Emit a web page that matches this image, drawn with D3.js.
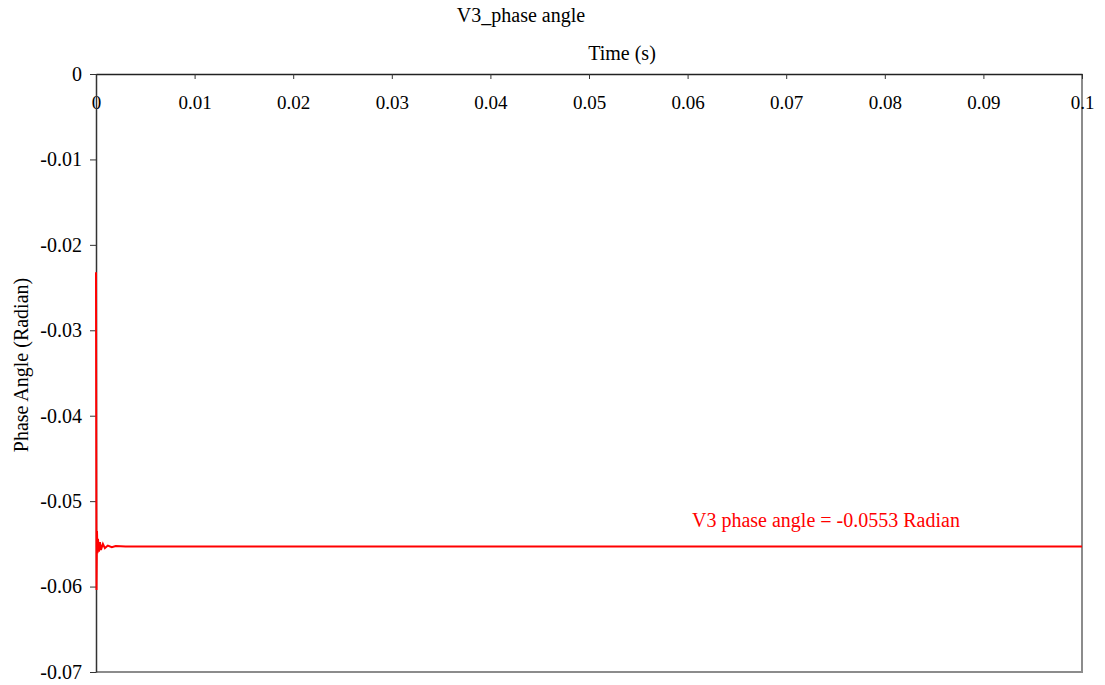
<!DOCTYPE html>
<html>
<head>
<meta charset="utf-8">
<script src="https://cdn.jsdelivr.net/npm/d3@7"></script>
<style>
  body { margin: 0; background: #fff; }
</style>
</head>
<body>
<svg width="1105" height="685"></svg>
<script>
// sampled V3 phase angle (radian) vs time (s)
const times  = [0, 0.00005, 0.0001, 0.00015, 0.0002, 0.0003, 0.0004, 0.0005, 0.0007, 0.0009, 0.0012, 0.0016, 0.002, 0.003, 0.006, 0.01, 0.02, 0.04, 0.06, 0.08, 0.1];
const angles = [-0.0232, -0.0604, -0.0535, -0.0561, -0.0544, -0.0559, -0.0548, -0.0557, -0.0550, -0.0555, -0.0552, -0.0554, -0.05525, -0.0553, -0.0553, -0.0553, -0.0553, -0.0553, -0.0553, -0.0553, -0.0553];
const xTicks = [0, 0.01, 0.02, 0.03, 0.04, 0.05, 0.06, 0.07, 0.08, 0.09, 0.1];
const yTicks = [0, -0.01, -0.02, -0.03, -0.04, -0.05, -0.06, -0.07];

const FONT = "'Liberation Serif', 'Times New Roman', Times, serif";

let svg = d3.select("svg").attr("font-family", FONT);
let plotLeft = 96, plotRight = 1082, plotTop = 74, plotBottom = 672;

let x = d3.scaleLinear().domain([0, 0.1]).range([plotLeft, plotRight]);
let y = d3.scaleLinear().domain([0, -0.07]).range([plotTop, plotBottom]);

// grey frame on right / bottom
svg.append("path")
    .attr("d", `M${plotRight},${plotTop}V${plotBottom}H${plotLeft}`)
    .attr("fill", "none")
    .attr("stroke", "#8c8c8c")
    .attr("stroke-width", 2);

// x axis along the top (y = 0), ticks pointing down
let xAxis = svg.append("g")
    .attr("transform", `translate(0,${plotTop})`)
    .call(d3.axisBottom(x).tickValues(xTicks).tickSize(5).tickSizeOuter(0)
        .tickFormat(d => String(+d.toFixed(2))));
xAxis.attr("font-family", FONT);
xAxis.select(".domain").attr("stroke", "#222").attr("stroke-width", 1.5);
xAxis.selectAll(".tick line").attr("stroke", "#333");
xAxis.selectAll("text")
    .attr("y", 22)
    .attr("font-size", 19)
    .attr("fill", "#000");

// y axis
let yAxis = svg.append("g")
    .attr("transform", `translate(${plotLeft},0)`)
    .call(d3.axisLeft(y).tickValues(yTicks).tickSize(6).tickSizeOuter(0)
        .tickFormat(d => d === 0 ? "0" : d.toFixed(2)));
yAxis.attr("font-family", FONT);
yAxis.select(".domain").attr("stroke", "#333").attr("stroke-width", 1.5);
yAxis.selectAll(".tick line").attr("stroke", "#333");
yAxis.selectAll("text")
    .attr("x", -14)
    .attr("font-size", 20)
    .attr("fill", "#000");

// series
let line = d3.line().x((d, i) => x(times[i])).y(d => y(d));
svg.append("path")
    .datum(angles)
    .attr("d", line)
    .attr("fill", "none")
    .attr("stroke", "#ff0000")
    .attr("stroke-width", 2);

// titles
svg.append("text")
    .attr("x", 521).attr("y", 22)
    .attr("text-anchor", "middle")
    .attr("font-size", 20)
    .text("V3_phase angle");
svg.append("text")
    .attr("x", 622).attr("y", 60)
    .attr("text-anchor", "middle")
    .attr("font-size", 20)
    .text("Time (s)");
svg.append("text")
    .attr("transform", "translate(28,365) rotate(-90)")
    .attr("text-anchor", "middle")
    .attr("font-size", 20)
    .text("Phase Angle (Radian)");

// annotation
svg.append("text")
    .attr("x", 692).attr("y", 527)
    .attr("font-size", 20)
    .attr("fill", "#ff0000")
    .text("V3 phase angle = -0.0553 Radian");
</script>
</body>
</html>
